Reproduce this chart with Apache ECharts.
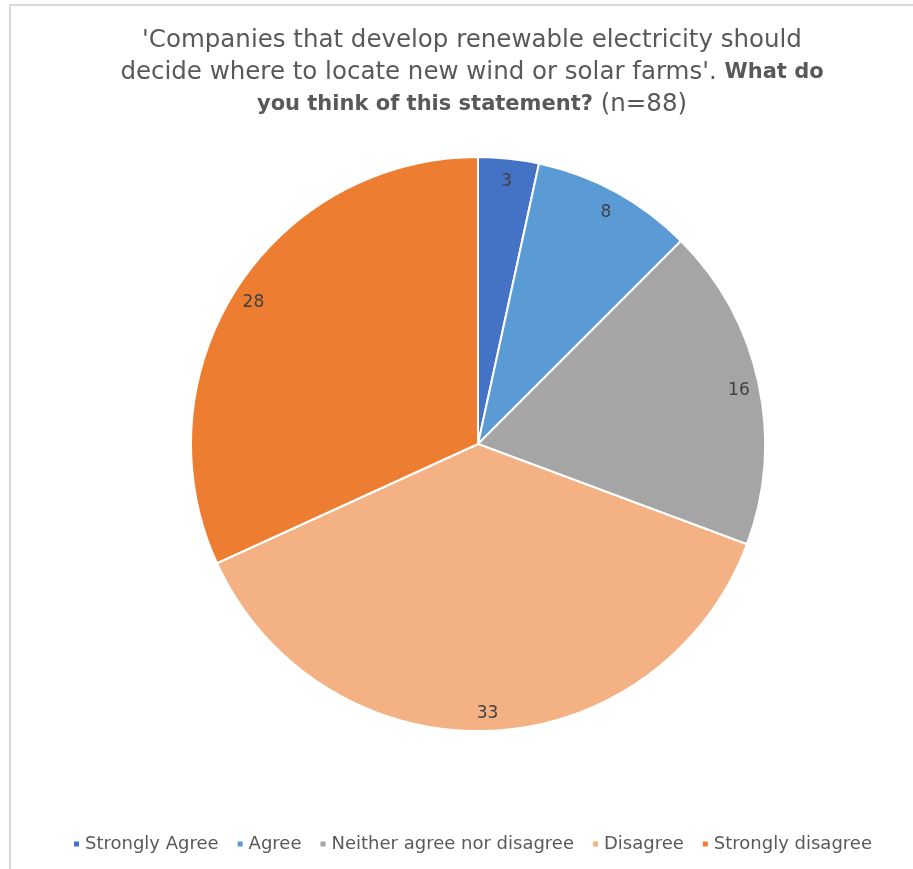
<!DOCTYPE html>
<html>
<head>
<meta charset="utf-8">
<script src="https://cdn.jsdelivr.net/npm/echarts@6/dist/echarts.min.js"></script>
<style>
html,body{margin:0;padding:0;background:#fff;}
#c{width:913px;height:869px;}
</style>
</head>
<body>
<div id="c"></div>
<script>
const categories = ['Strongly Agree', 'Agree', 'Neither agree nor disagree', 'Disagree', 'Strongly disagree'];
const values = [3, 8, 16, 33, 28];
const colors = ['#4472C4', '#5B9BD5', '#A5A5A5', '#F4B183', '#ED7D31'];

const FONT = 'DejaVu Sans';
const data = categories.map((n, i) => ({ name: n, value: values[i], itemStyle: { color: colors[i] } }));
const chart = echarts.init(document.getElementById('c'));
chart.setOption({
  backgroundColor: '#fff',
  animation: false,
  graphic: [
    { type: 'line', shape: { x1: 9, y1: 5, x2: 913, y2: 5 }, style: { stroke: '#d9d9d9', lineWidth: 2 } },
    { type: 'line', shape: { x1: 10, y1: 4, x2: 10, y2: 869 }, style: { stroke: '#d9d9d9', lineWidth: 2 } }
  ],
  title: {
    text: "{n|'Companies that develop renewable electricity should}\n{n|decide where to locate new wind or solar farms'. }{b|What do}\n{b|you think of this statement?}{n| (n=88)}",
    left: 467,
    top: 20,
    textAlign: 'center',
    textStyle: {
      fontFamily: FONT,
      fontWeight: 'normal',
      rich: {
        n: { fontFamily: FONT, fontSize: 24.5, color: '#595959', fontWeight: 'normal', lineHeight: 32 },
        b: { fontFamily: FONT, fontSize: 21, color: '#595959', fontWeight: 'bold', lineHeight: 32 }
      }
    }
  },
  legend: {
    bottom: 11,
    left: 67,
    icon: 'rect',
    itemWidth: 7,
    itemHeight: 7,
    itemGap: 17,
    textStyle: { fontFamily: FONT, fontSize: 18, color: '#595959' },
    data: categories
  },
  series: [
    {
      type: 'pie',
      center: [478, 444],
      radius: [0, 287],
      startAngle: 90,
      clockwise: true,
      silent: true,
      label: { show: false },
      labelLine: { show: false },
      itemStyle: { borderColor: '#fff', borderWidth: 2 },
      data: data
    },
    {
      type: 'pie',
      center: [478, 447],
      radius: [241, 287],
      startAngle: 90,
      clockwise: true,
      silent: true,
      legendHoverLink: false,
      itemStyle: { color: 'rgba(0,0,0,0)', borderWidth: 0 },
      label: { show: true, position: 'inside', formatter: '{c}', fontFamily: FONT, fontSize: 17, color: '#404040' },
      labelLine: { show: false },
      data: categories.map((n, i) => ({ name: n, value: values[i], itemStyle: { color: 'rgba(0,0,0,0)' } }))
    }
  ]
});
</script>
</body>
</html>
